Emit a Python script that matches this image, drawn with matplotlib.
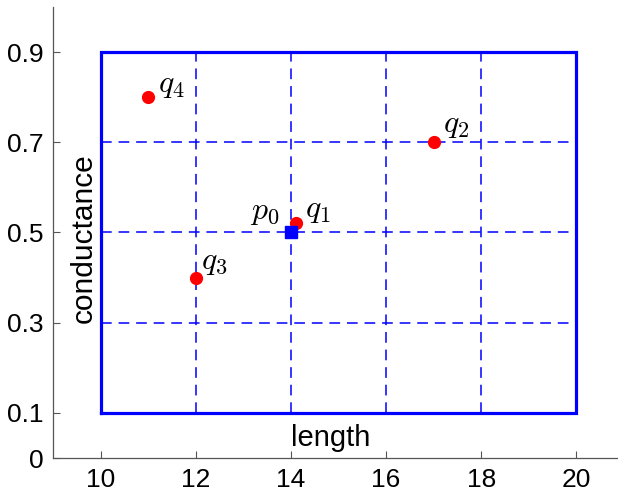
import numpy as np
import matplotlib
matplotlib.use('Agg')
import matplotlib.pyplot as plt

plt.rcParams['font.family'] = ['Liberation Sans', 'DejaVu Sans']
plt.rcParams['mathtext.fontset'] = 'cm'

# data
box_x = [10, 20]
box_y = [0.1, 0.9]
grid_x = [12, 14, 16, 18]
grid_y = [0.3, 0.5, 0.7]
q_names = ['q_1', 'q_2', 'q_3', 'q_4']
q_x = [14.1, 17, 12, 11]
q_y = [0.52, 0.7, 0.4, 0.8]
p0_x = [14]
p0_y = [0.5]
xticks = [10, 12, 14, 16, 18, 20]
yticks = [0, 0.1, 0.3, 0.5, 0.7, 0.9]

# label offsets in points
q_offsets = [(7, 9.5), (7, 12.5), (3.6, 11), (7, 8.5)]

blue = '#0000ff'
red = '#ff0000'
dash = (0, (7, 4.5))

fig = plt.figure(figsize=(6.18, 4.94), dpi=100)
ax = fig.add_axes([53/618, 36/494, 571/618, 451/494])
ax.set_xlim(9, 21)
ax.set_ylim(0, 1)

# dashed grid inside the box
ax.hlines(grid_y, box_x[0], box_x[1], colors=blue, linestyles=dash, lw=1.1, zorder=2)
ax.vlines(grid_x, box_y[0], box_y[1], colors=blue, linestyles=dash, lw=1.1, zorder=2)

# outer box
bx = [box_x[0], box_x[1], box_x[1], box_x[0], box_x[0]]
by = [box_y[0], box_y[0], box_y[1], box_y[1], box_y[0]]
ax.plot(bx, by, color=blue, lw=2.3, solid_joinstyle='miter', zorder=3)

# points
ax.plot(q_x, q_y, 'o', color=red, ms=8.5, zorder=4)
ax.plot(p0_x, p0_y, 's', color=blue, ms=8, zorder=5)

for name, x, y, off in zip(q_names, q_x, q_y, q_offsets):
    ax.annotate(f'${name}$', (x, y), xytext=off, textcoords='offset points',
                ha='left', va='center', fontsize=23)
ax.annotate('$p_0$', (p0_x[0], p0_y[0]), xytext=(-8, 15), textcoords='offset points',
            ha='right', va='center', fontsize=23)

# axis labels placed inside the axes
ax.text(14.83, 0.044, 'length', ha='center', va='center', fontsize=21)
ax.text(9.65, 0.488, 'conductance', ha='center', va='center', rotation=90, fontsize=21.5)

ax.set_xticks(xticks)
ax.set_yticks(yticks)
ax.set_yticklabels([f'{v:g}' for v in yticks])
ax.tick_params(direction='in', length=5, width=0.8, color='#555555', pad=7, labelsize=19)

for s in ['top', 'right']:
    ax.spines[s].set_visible(False)
for s in ['left', 'bottom']:
    ax.spines[s].set_color('#555555')
    ax.spines[s].set_linewidth(0.9)

fig.savefig('out.png', dpi=100, facecolor='white')
